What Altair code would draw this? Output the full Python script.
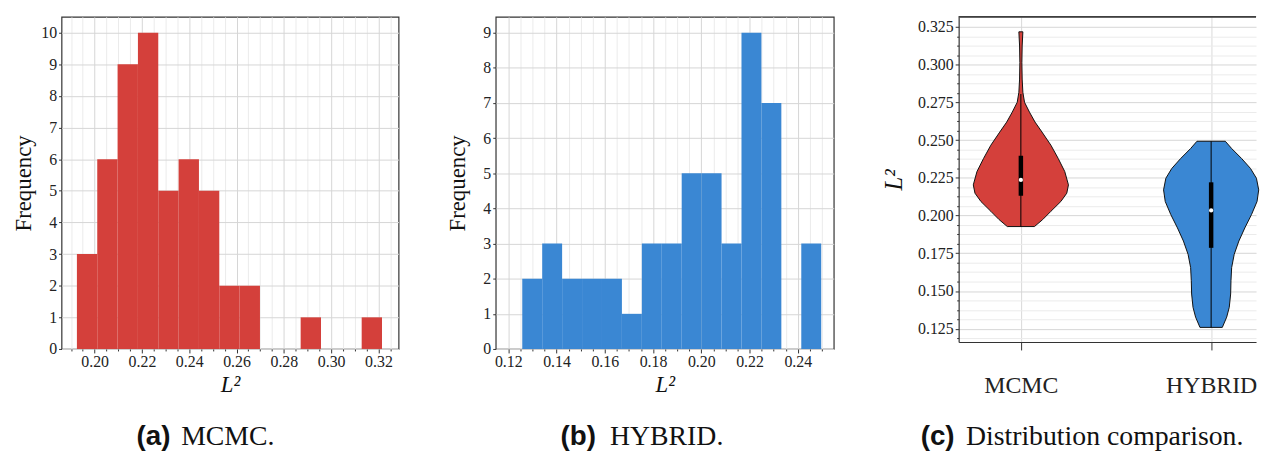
import json
import math
import altair as alt
import pandas as pd

# ---------------- data ----------------
# (a) MCMC histogram: 15 equal bins between the sample min and max
mcmc_counts = [3, 6, 9, 10, 5, 6, 5, 2, 2, 0, 0, 1, 0, 0, 1]
mcmc_range = [0.1925, 0.3215]
# (b) HYBRID histogram
hybrid_counts = [2, 3, 2, 2, 2, 1, 3, 3, 5, 5, 3, 9, 7, 0, 3]
hybrid_range = [0.1258, 0.2497]

# (c) violin outlines: L2 value and relative density (max = 1)
mcmc_violin_y = [0.1927, 0.1973, 0.2028, 0.2093, 0.2148, 0.2203, 0.2291, 0.2378,
                 0.2466, 0.2553, 0.2619, 0.2685, 0.2750, 0.2816, 0.2904, 0.3013,
                 0.3123, 0.3217]
mcmc_violin_d = [0.285, 0.458, 0.631, 0.840, 0.965, 1.000, 0.923, 0.785,
                 0.631, 0.444, 0.298, 0.181, 0.077, 0.042, 0.027, 0.021,
                 0.027, 0.042]
hybrid_violin_y = [0.1259, 0.1327, 0.1392, 0.1480, 0.1568, 0.1655, 0.1743, 0.1831,
                   0.1918, 0.2006, 0.2093, 0.2170, 0.2247, 0.2312, 0.2378, 0.2444,
                   0.2492]
hybrid_violin_d = [0.235, 0.327, 0.381, 0.410, 0.417, 0.431, 0.485, 0.583,
                   0.708, 0.848, 0.965, 1.000, 0.952, 0.827, 0.640, 0.431,
                   0.298]

categories = ["MCMC", "HYBRID"]
box_lo = [0.1927, 0.1259]
box_hi = [0.2805, 0.2492]
box_q1 = [0.2131, 0.1786]
box_q3 = [0.2396, 0.2220]
box_med = [0.2236, 0.2034]

caption_tags = ["(a)", "(b)", "(c)"]
caption_texts = ["MCMC.", "HYBRID.", "Distribution comparison."]

RED = "#d4403b"
BLUE = "#3a87d3"
SERIF = "Liberation Serif"
SANS = "Liberation Sans"
GRID_MAJ = "#d6d6d6"
GRID_MIN = "#ebebeb"
FRAME = "#333333"


def hist_df(counts, rng):
    n = len(counts)
    w = (rng[1] - rng[0]) / n
    return pd.DataFrame({
        "x0": [rng[0] + i * w for i in range(n)],
        "x1": [rng[0] + (i + 1) * w for i in range(n)],
        "count": counts,
    })


def tick_values(lo, hi, step, margin):
    """Tick positions well inside the axis domain (styling, not data)."""
    out = []
    k = int(math.ceil((lo + margin) / step - 1e-9))
    while k * step < hi - margin:
        out.append(round(k * step, 5))
        k += 1
    return out


def major_test(step):
    return f"abs(datum.value/{step} - round(datum.value/{step})) < 0.001"


def caption_layer(i, x_tag, x_text, y):
    d = pd.DataFrame({"tag": [caption_tags[i]], "txt": [caption_texts[i]]})
    tag = alt.Chart(d).mark_text(font=SANS, fontWeight="bold", fontSize=28, align="left",
                                 baseline="alphabetic", color="#111").encode(
        text="tag:N", x=alt.value(x_tag), y=alt.value(y))
    txt = alt.Chart(d).mark_text(font=SERIF, fontSize=28, align="left",
                                 baseline="alphabetic", color="#111").encode(
        text="txt:N", x=alt.value(x_text), y=alt.value(y))
    return tag + txt


def hist_panel(counts, rng, color, xdom, xmajor_step, ydom, ymax_tick, width, height,
               cap_i, cap_xtag, cap_xtext):
    df = hist_df(counts, rng)
    xvals = tick_values(xdom[0], xdom[1], 0.005, 0.0005)
    t = major_test(xmajor_step)
    xaxis = alt.Axis(
        values=xvals, labelExpr=f"({t}) ? format(datum.value, '.2f') : ''",
        title="L²", titleFontStyle="italic", titleFontSize=23, titlePadding=4,
        labelOverlap=False, labelFlush=False, labelBound=False,
        tickSize={"condition": {"test": t, "value": 4}, "value": 2},
        gridColor={"condition": {"test": t, "value": GRID_MAJ}, "value": GRID_MIN},
        labelPadding=1, domain=False, tickColor=FRAME)
    yaxis = alt.Axis(
        values=list(range(0, ymax_tick + 1)), format="d", title="Frequency",
        titleFontSize=23, titlePadding=4, minExtent=22, maxExtent=22,
        tickSize=3, labelPadding=2, gridColor=GRID_MAJ, domain=False,
        tickColor=FRAME, labelOverlap=False)
    bars = alt.Chart(df).mark_rect(color=color, opacity=1).encode(
        x=alt.X("x0:Q", scale=alt.Scale(domain=xdom, nice=False, zero=False), axis=xaxis),
        x2="x1:Q",
        y=alt.Y("count:Q", scale=alt.Scale(domain=ydom, nice=False, zero=False), axis=yaxis),
        y2=alt.datum(0),
    )
    return alt.layer(bars, caption_layer(cap_i, cap_xtag, cap_xtext, 432)).properties(
        width=width, height=height,
        view=alt.ViewBackground(stroke=FRAME, strokeWidth=1.2))


panel_a = hist_panel(mcmc_counts, mcmc_range, RED, [0.186, 0.3285], 0.02, [0, 10.5], 10,
                     340, 335, 0, 75.7, 120.7)
panel_b = hist_panel(hybrid_counts, hybrid_range, BLUE, [0.1148, 0.2549], 0.02, [0, 9.45], 9,
                     341, 335, 1, 65.3, 115.3)

# ---------------- (c) violin panel ----------------
vrows = []
for i, (ys, ds) in enumerate([(mcmc_violin_y, mcmc_violin_d), (hybrid_violin_y, hybrid_violin_d)]):
    for y, d in zip(ys, ds):
        vrows.append({"cat": categories[i], "idx": i, "value": y, "dens": d})
vdf = pd.DataFrame(vrows)
bdf = pd.DataFrame({"cat": categories, "idx": list(range(len(categories))),
                    "lo": box_lo, "hi": box_hi, "q1": box_q1, "q3": box_q3, "med": box_med})

CW, CH = 300, 328
xdom_c = [-0.327, 1.236]
ydom_c = [0.1162, 0.3316]
yt = major_test(0.025)
xscale_c = alt.Scale(domain=xdom_c, nice=False, zero=False)
yscale_c = alt.Scale(domain=ydom_c, nice=False, zero=False)

xaxis_c = alt.Axis(values=[0, 1], labelExpr=f"{json.dumps(categories)}[datum.value]",
                   title=None, labelFontSize=24, labelPadding=24, tickSize=8,
                   tickColor=FRAME, domainColor=FRAME, domainWidth=1.2,
                   gridColor="#dadada", labelOverlap=False, labelFlush=False)
yaxis_c = alt.Axis(values=tick_values(ydom_c[0], ydom_c[1], 0.00625, 0.001),
                   labelExpr=f"({yt}) ? format(datum.value, '.3f') : ''",
                   title="L²", titleFontStyle="italic", titleFontSize=25, titlePadding=11,
                   minExtent=42, maxExtent=42, labelOverlap=False, labelFlush=False,
                   labelBound=False, labelPadding=2, domainColor=FRAME, domainWidth=1.2,
                   tickColor=FRAME,
                   tickSize={"condition": {"test": yt, "value": 3.5}, "value": 2},
                   gridColor={"condition": {"test": yt, "value": GRID_MAJ}, "value": GRID_MIN})

violins = alt.Chart(vdf).transform_calculate(
    xl="datum.idx - 0.25 * datum.dens", xr="datum.idx + 0.25 * datum.dens"
).mark_area(orient="horizontal", stroke="#111", strokeWidth=1, opacity=1,
            fillOpacity=1).encode(
    y=alt.Y("value:Q", scale=yscale_c, axis=yaxis_c),
    x=alt.X("xl:Q", scale=xscale_c, axis=xaxis_c),
    x2="xr:Q",
    fill=alt.Fill("cat:N", scale=alt.Scale(domain=categories, range=[RED, BLUE]), legend=None),
)
whisk = alt.Chart(bdf).mark_rule(color="black", strokeWidth=1).encode(
    x=alt.X("idx:Q", scale=xscale_c, axis=xaxis_c),
    y=alt.Y("lo:Q", scale=yscale_c, axis=yaxis_c), y2="hi:Q")
thick = alt.Chart(bdf).mark_rule(color="black", strokeWidth=4.5).encode(
    x=alt.X("idx:Q", scale=xscale_c, axis=xaxis_c),
    y=alt.Y("q1:Q", scale=yscale_c, axis=yaxis_c), y2="q3:Q")
med = alt.Chart(bdf).mark_circle(color="white", size=18, opacity=1).encode(
    x=alt.X("idx:Q", scale=xscale_c, axis=xaxis_c),
    y=alt.Y("med:Q", scale=yscale_c, axis=yaxis_c))
top_rule = alt.Chart(bdf).mark_rule(color=FRAME, strokeWidth=1.2).encode(
    x=alt.value(0), x2=alt.value(CW), y=alt.value(0))

panel_c = alt.layer(violins, whisk, thick, med, top_rule,
                    caption_layer(2, -38.3, 7.3, 432)).properties(
    width=CW, height=CH, view=alt.ViewBackground(stroke=None))

chart = alt.hconcat(panel_a, panel_b, panel_c, spacing=47).properties(
    padding={"left": 4, "top": 6, "right": 0, "bottom": 0}
).configure_axis(
    labelFont=SERIF, labelFontSize=16, labelColor="#222",
    titleFont=SERIF, titleFontWeight="normal", titleColor="#111",
).configure_view(stroke=None)

chart.save("out.html", embed_options={"renderer": "svg", "actions": False})
